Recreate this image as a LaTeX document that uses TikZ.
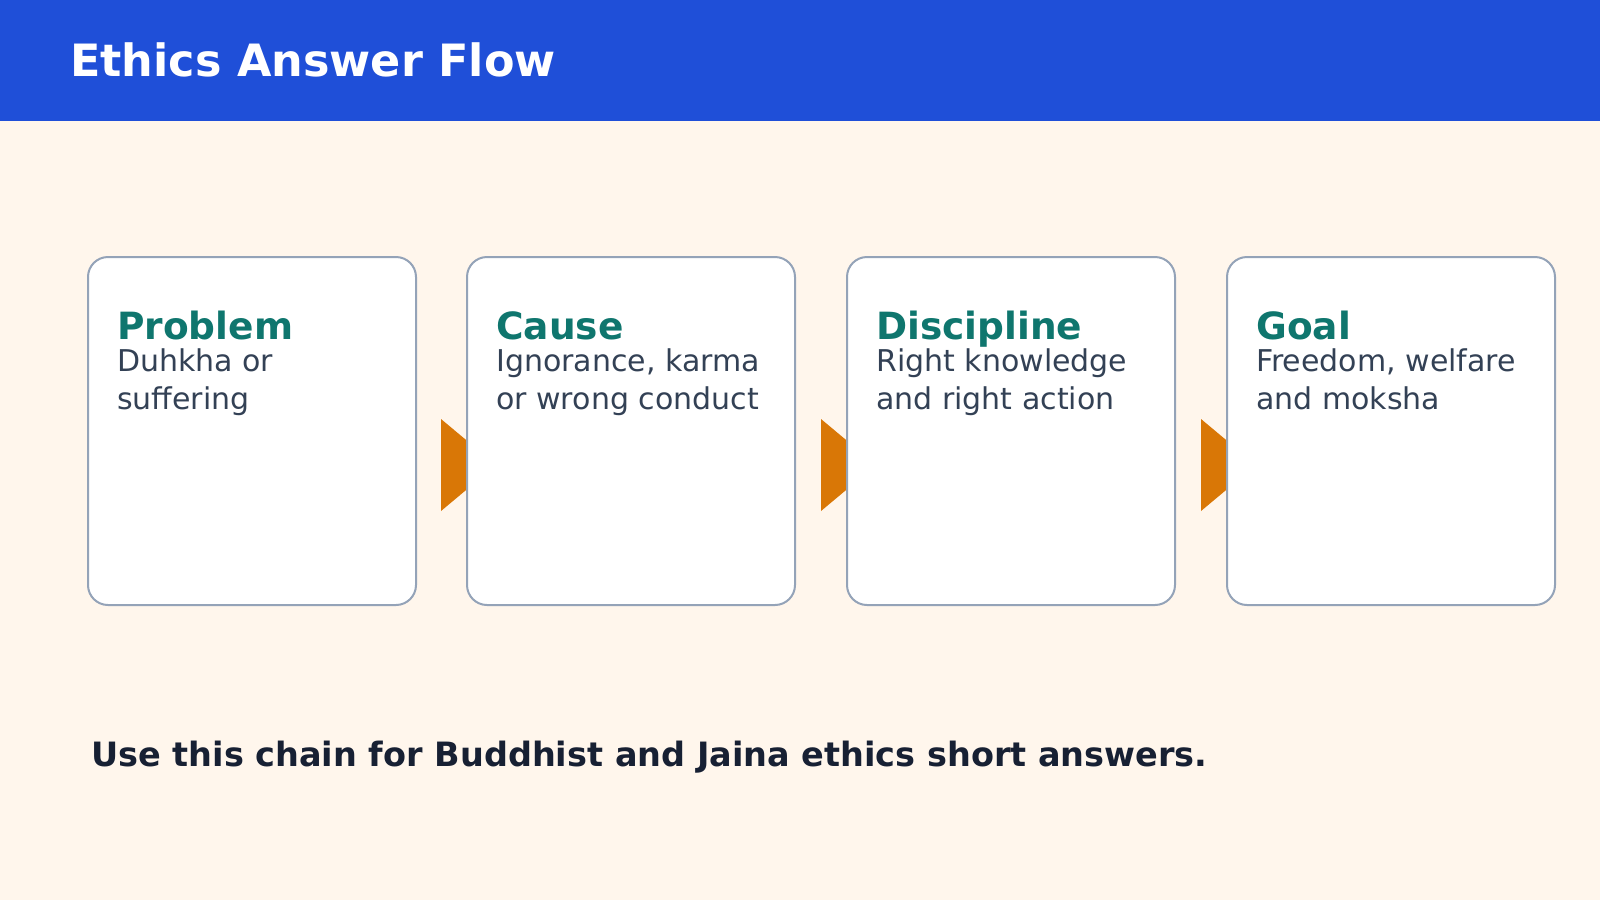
\documentclass[tikz,border=0pt]{standalone}
\usepackage{fontspec}
\setmainfont{DejaVu Sans}
\definecolor{hdr}{HTML}{1F4FD8}
\definecolor{bg}{HTML}{FFF6EC}
\definecolor{brd}{HTML}{94A3B8}
\definecolor{ttl}{HTML}{0F766E}
\definecolor{bdy}{HTML}{334155}
\definecolor{ftr}{HTML}{172033}
\definecolor{arr}{HTML}{D97706}
\begin{document}
\begin{tikzpicture}[x=1pt,y=-1pt,
  card/.style={draw=brd,line width=2pt,fill=white,rounded corners=20pt,minimum width=328pt,minimum height=348pt,anchor=north west,inner sep=0pt},
  ctitle/.style={anchor=base west,font=\fontsize{37.5}{44}\selectfont\bfseries,text=ttl,inner sep=0pt},
  cbody/.style={anchor=base west,font=\fontsize{30}{38}\selectfont,text=bdy,inner sep=0pt,align=left},
  tri/.style={fill=arr}]
\useasboundingbox (0,0) rectangle (1600,900);
\fill[bg] (0,0) rectangle (1600,900);
\fill[hdr] (0,0) rectangle (1600,121);
\node[anchor=base west,text=white,font=\fontsize{44.5}{52}\selectfont\bfseries,inner sep=0pt] (title) at (70,76) {Ethics Answer Flow};
\foreach \x in {441,821,1201}{\fill[tri] (\x,419) -- (\x,511) -- (\x+55,465) -- cycle;}
\node[card] (c1) at (87,256) {};
\node[card] (c2) at (466,256) {};
\node[card] (c3) at (846,256) {};
\node[card] (c4) at (1226,256) {};
\foreach \n/\t/\b in {c1/Problem/{Duhkha or\\suffering},c2/Cause/{Ignorance, karma\\or wrong conduct},c3/Discipline/{Right knowledge\\and right action},c4/Goal/{Freedom, welfare\\and moksha}}{
  \node[ctitle] (\n t) at ([shift={(30,83)}]\n.north west) {\t};
  \node[cbody] (\n b) at ([shift={(30,153)}]\n.north west) {\b};
}
\node[anchor=base west,text=ftr,font=\fontsize{33.5}{40}\selectfont\bfseries,inner sep=0pt] (foot) at (91,766) {Use this chain for Buddhist and Jaina ethics short answers.};
\end{tikzpicture}
\end{document}
